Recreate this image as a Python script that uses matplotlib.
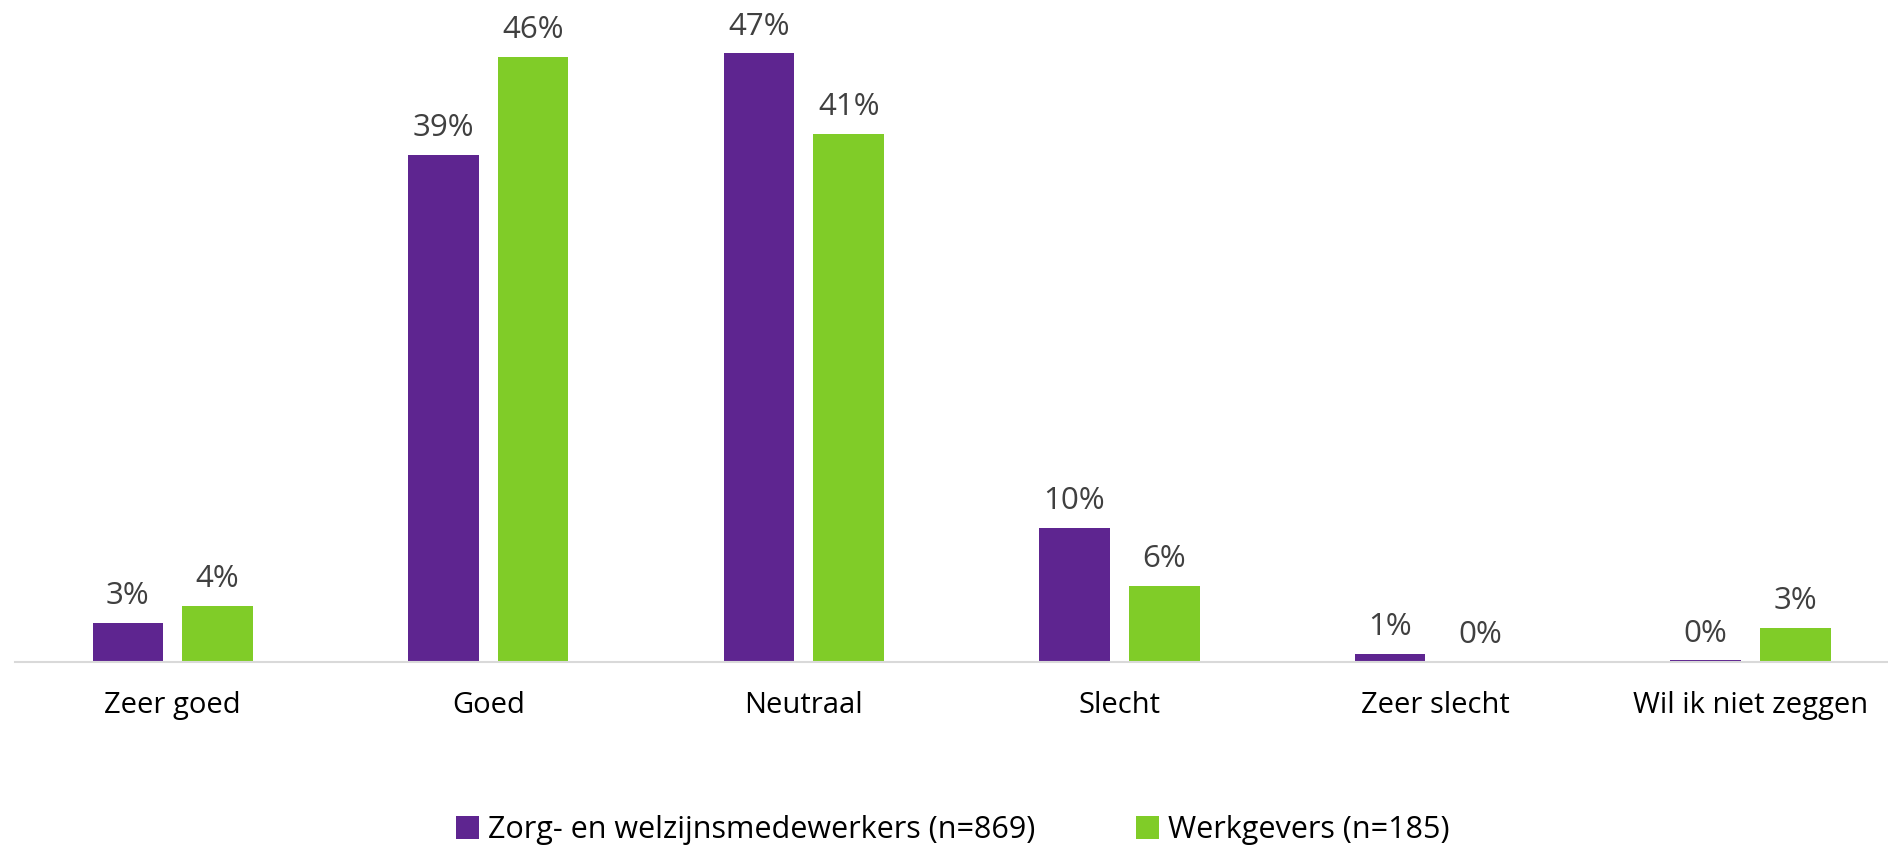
import numpy as np
import matplotlib.pyplot as plt

plt.rcParams['font.family'] = ['Open Sans', 'DejaVu Sans']

# gegevens
categories = ['Zeer goed', 'Goed', 'Neutraal', 'Slecht', 'Zeer slecht', 'Wil ik niet zeggen']
medewerkers = [3.0, 38.9, 46.7, 10.3, 0.6, 0.1]
werkgevers = [4.3, 46.45, 40.55, 5.8, 0.0, 2.6]
series_labels = ['Zorg- en welzijnsmedewerkers (n=869)', 'Werkgevers (n=185)']

purple = '#5E2590'
green = '#80CC28'

fig = plt.figure(figsize=(18.88, 8.49), dpi=100)
ax = fig.add_axes([15 / 1888, 187.3 / 849, 1 - 15 / 1888, 661.7 / 849])

x = np.arange(len(categories))
w = 0.2234
off = 0.1423
b1 = ax.bar(x - off, medewerkers, w, color=purple, label=series_labels[0])
b2 = ax.bar(x + off, werkgevers, w, color=green, label=series_labels[1])

# labels boven de staven
for bars, vals in [(b1, medewerkers), (b2, werkgevers)]:
    for rect, v in zip(bars, vals):
        ax.annotate(f'{round(v)}%', (rect.get_x() + rect.get_width() / 2, v),
                    xytext=(0, 13.5), textcoords='offset points',
                    ha='center', va='baseline', fontsize=22.5, color='#404040')

ax.set_xlim(-0.5, 5.436)
ax.set_ylim(0, 50.8)
ax.set_xticks(x)
ax.set_xticklabels(categories, fontsize=21, color='#000000')
ax.tick_params(axis='x', length=0, pad=21)
ax.set_yticks([])
for s in ['top', 'right', 'left']:
    ax.spines[s].set_visible(False)
ax.spines['bottom'].set_color('#D9D9D9')
ax.spines['bottom'].set_linewidth(1.5)

fig.legend(loc='center', bbox_to_anchor=(953 / 1888, 1 - 830 / 849), ncol=2,
           frameon=False, fontsize=22, handlelength=0.75, handleheight=0.75,
           handletextpad=0.3, columnspacing=3.3)

plt.savefig('out.png', dpi=100)
